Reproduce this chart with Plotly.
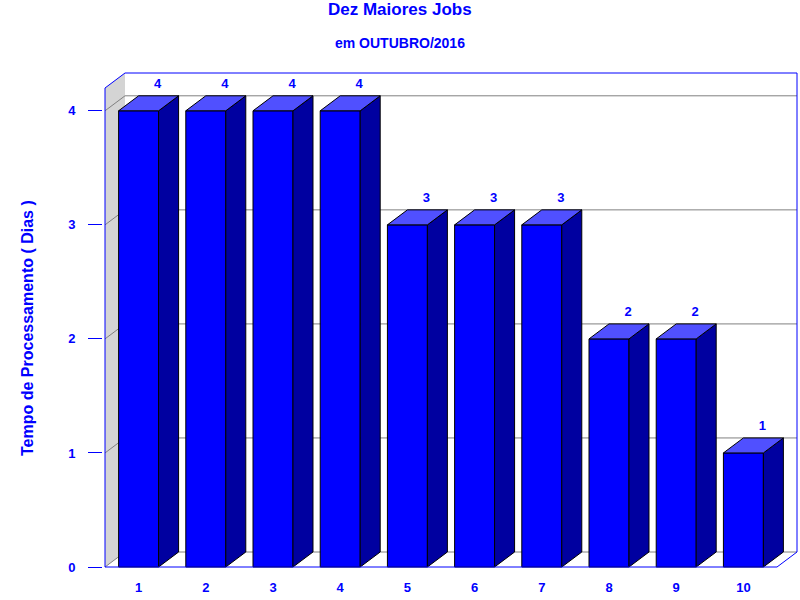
import plotly.graph_objects as go

# dados do grafico
jobs = ["1", "2", "3", "4", "5", "6", "7", "8", "9", "10"]
dias = [4, 4, 4, 4, 3, 3, 3, 2, 2, 1]
y_ticks = [0, 1, 2, 3, 4]

# geometria do efeito 3D (em unidades dos eixos)
y_top = 4.2
bar_w = 0.595
dx = 0.2976
dy = 0.1315
px_x = 1 / 67.2    # 1 pixel em unidades x
px_y = 1 / 114.05  # 1 pixel em unidades y

BLUE = "#0000FF"
SIDE = "#0000A0"
TOP = "#5050FF"
FONT = "Liberation Sans, Arial, sans-serif"

xs = list(range(1, len(jobs) + 1))

fig = go.Figure()

# face frontal das barras
fig.add_trace(go.Bar(
    x=xs, y=dias, width=bar_w,
    marker=dict(color=BLUE, line=dict(color="black", width=1)),
    hoverinfo="skip",
))

# faces lateral e superior
for x, v in zip(xs, dias):
    r = x + bar_w / 2
    l = x - bar_w / 2
    fig.add_trace(go.Scatter(
        x=[r, r + dx, r + dx, r, r], y=[0, dy, v + dy, v, 0],
        fill="toself", fillcolor=SIDE, mode="lines",
        line=dict(color="black", width=1), hoverinfo="skip",
    ))
    fig.add_trace(go.Scatter(
        x=[l, r, r + dx, l + dx, l], y=[v, v, v + dy, v + dy, v],
        fill="toself", fillcolor=TOP, mode="lines",
        line=dict(color="black", width=1), hoverinfo="skip",
    ))

# rotulos de valor
fig.add_trace(go.Scatter(
    x=[x + dx * 0.95 for x in xs], y=[v + dy + 5 * px_y for v in dias],
    mode="text", text=[str(v) for v in dias], textposition="top center",
    textfont=dict(family=FONT, size=13, color=BLUE, weight="bold"),
    hoverinfo="skip",
))

x0, x1 = 0.5, len(jobs) + 0.5
shapes = []
# parede lateral cinza
shapes.append(dict(type="path", layer="below", xref="x", yref="y",
                   path=f"M{x0},0 L{x0},{y_top} L{x0 + dx},{y_top + dy} L{x0 + dx},{dy} Z",
                   fillcolor="#D4D4D4", line=dict(width=0)))
# grades
for t in y_ticks:
    shapes.append(dict(type="line", layer="below", xref="x", yref="y",
                       x0=x0 + dx, x1=x1 + dx, y0=t + dy, y1=t + dy,
                       line=dict(color="#808080", width=1)))
    shapes.append(dict(type="line", layer="below", xref="x", yref="y",
                       x0=x0, x1=x0 + dx, y0=t, y1=t + dy,
                       line=dict(color="#808080", width=1)))
# moldura azul
shapes.append(dict(type="path", layer="above", xref="x", yref="y",
                   path=(f"M{x0},0 L{x0},{y_top} L{x0 + dx},{y_top + dy} "
                         f"L{x1 + dx},{y_top + dy} L{x1 + dx},{dy} L{x1},0 Z"),
                   line=dict(color=BLUE, width=1)))

pad = 2
L, R, T, B = 105 - pad, 3 - pad, 73 - pad, 33 - pad
pw, ph = 800 - L - R, 600 - T - B

fig.update_layout(
    width=800, height=600,
    margin=dict(l=L, r=R, t=T, b=B),
    paper_bgcolor="white", plot_bgcolor="white",
    showlegend=False,
    shapes=shapes,
    font=dict(family=FONT, color=BLUE),
    xaxis=dict(range=[x0 - pad * px_x, x1 + dx + pad * px_x], tickvals=xs, ticktext=jobs,
               showgrid=False, zeroline=False, showline=False,
               ticks="outside", ticklen=6, tickcolor="rgba(0,0,0,0)",
               tickfont=dict(family=FONT, size=13, color=BLUE, weight="bold")),
    yaxis=dict(range=[-pad * px_y, y_top + dy + pad * px_y], tickvals=y_ticks,
               showgrid=False, zeroline=False, showline=False,
               ticks="outside", ticklen=14, tickcolor=BLUE, tickwidth=1,
               ticklabelstandoff=10,
               tickfont=dict(family=FONT, size=13, color=BLUE, weight="bold")),
    annotations=[
        dict(text="<b>Dez Maiores Jobs</b>", xref="paper", yref="paper",
             x=(400 - L) / pw, y=(600 - B - 9) / ph, showarrow=False,
             xanchor="center", yanchor="middle",
             font=dict(family=FONT, size=17, color=BLUE)),
        dict(text="<b>em OUTUBRO/2016</b>", xref="paper", yref="paper",
             x=(400 - L) / pw, y=(600 - B - 43) / ph, showarrow=False,
             xanchor="center", yanchor="middle",
             font=dict(family=FONT, size=14, color=BLUE)),
        dict(text="<b>Tempo de Processamento ( Dias )</b>", xref="paper", yref="paper",
             x=(27 - L) / pw, y=(600 - B - 328) / ph, showarrow=False,
             textangle=-90, xanchor="center", yanchor="middle",
             font=dict(family=FONT, size=16, color=BLUE)),
    ],
)

fig.write_html("out.html", config={"displayModeBar": False},
               post_script="document.body.style.margin='0';")
